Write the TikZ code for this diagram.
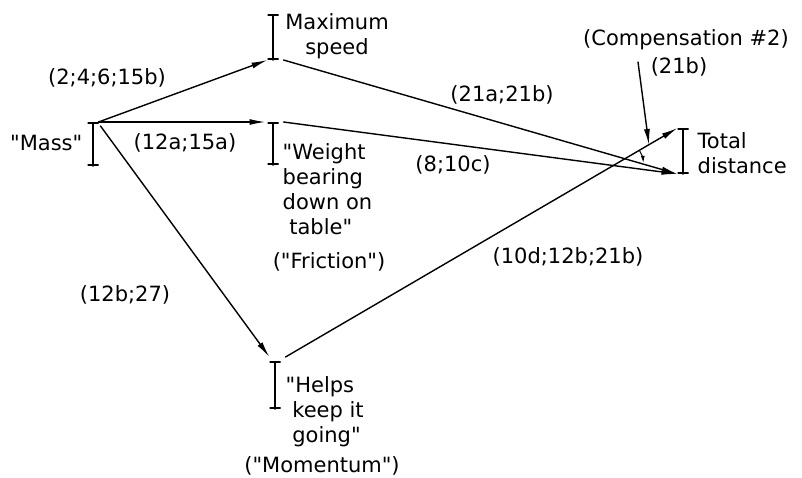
\documentclass[tikz,border=0pt]{standalone}
\usepackage{fontspec}
\setmainfont{DejaVu Sans}[Ligatures=TeXOff]
\usetikzlibrary{arrows.meta}
\begin{document}
\begin{tikzpicture}[x=1pt,y=-1pt,>={Latex[length=16pt,width=6pt]},line width=1.4pt,line cap=round,font=\fontsize{21}{25}\selectfont]
\tikzset{var/.style={minimum width=11pt,minimum height=#1,inner sep=0pt,outer sep=0pt,
    path picture={\draw[line width=1.8pt]
      ([yshift=-.9pt]path picture bounding box.north west) -- ([yshift=-.9pt]path picture bounding box.north east)
      (path picture bounding box.north) -- (path picture bounding box.south)
      ([yshift=.9pt]path picture bounding box.south west) -- ([yshift=.9pt]path picture bounding box.south east);}},
  txt/.style={inner sep=0pt}}
\useasboundingbox (0,0) rectangle (802,477);
\node[var=44pt] (mass) at (93,144) {};
\node[var=46pt] (speed) at (273,37) {};
\node[var=43pt] (weight) at (273,143.5) {};
\node[var=48pt] (momentum) at (275,385) {};
\node[var=46pt] (total) at (683,151) {};
\node[txt,anchor=east] (masstxt) at (83,143) {"Mass"};
\node[txt,align=center] (speedtxt) at (337,36) {Maximum\\speed};
\node[txt,align=left,anchor=west] (weighttxt) at (282,189) {"Weight\\bearing\\down on\\\ table"};
\node[txt] (friction) at (329,262) {("Friction")};
\node[txt,align=left,anchor=west] (helpstxt) at (285,412) {"Helps\\\ keep it\\\ going"};
\node[txt] (momtxt) at (322,466) {("Momentum")};
\node[txt,align=left,anchor=west] (totaltxt) at (697,153) {Total\\distance};
\node[txt] (comp) at (686,40) {(Compensation \#2)};
\node[txt] (c21b) at (679,67) {(21b)};
\draw[->] (mass.north east) -- (speed.south west);
\draw[->] (mass.north east) -- ([xshift=-2pt]weight.north west);
\draw[->] ([xshift=2pt,yshift=-4pt]mass.north east) -- ([yshift=4pt]momentum.north west);
\draw[->] ([xshift=5pt]speed.south east) -- (total.south west);
\draw[->] ([xshift=5pt]weight.north east) -- (total.south west);
\draw[->] ([xshift=5pt,yshift=4pt]momentum.north east) -- (total.north west);
\coordinate (comptail) at (638,62);
\coordinate (comptip) at (649,145);
\draw[->] (comptail) -- (comptip);
\draw[-{Latex[length=7pt,width=4pt]},line width=1pt] (613.5,165.5) ++(-30:30) arc[start angle=-30,end angle=-5,radius=30];
\node[txt] (l1) at (107,78) {(2;4;6;15b)};
\node[txt] (l2) at (185,143) {(12a;15a)};
\node[txt] (l3) at (125,295) {(12b;27)};
\node[txt] (l4) at (502,95) {(21a;21b)};
\node[txt] (l5) at (453,165) {(8;10c)};
\node[txt] (l6) at (568,257) {(10d;12b;21b)};
\end{tikzpicture}
\end{document}
